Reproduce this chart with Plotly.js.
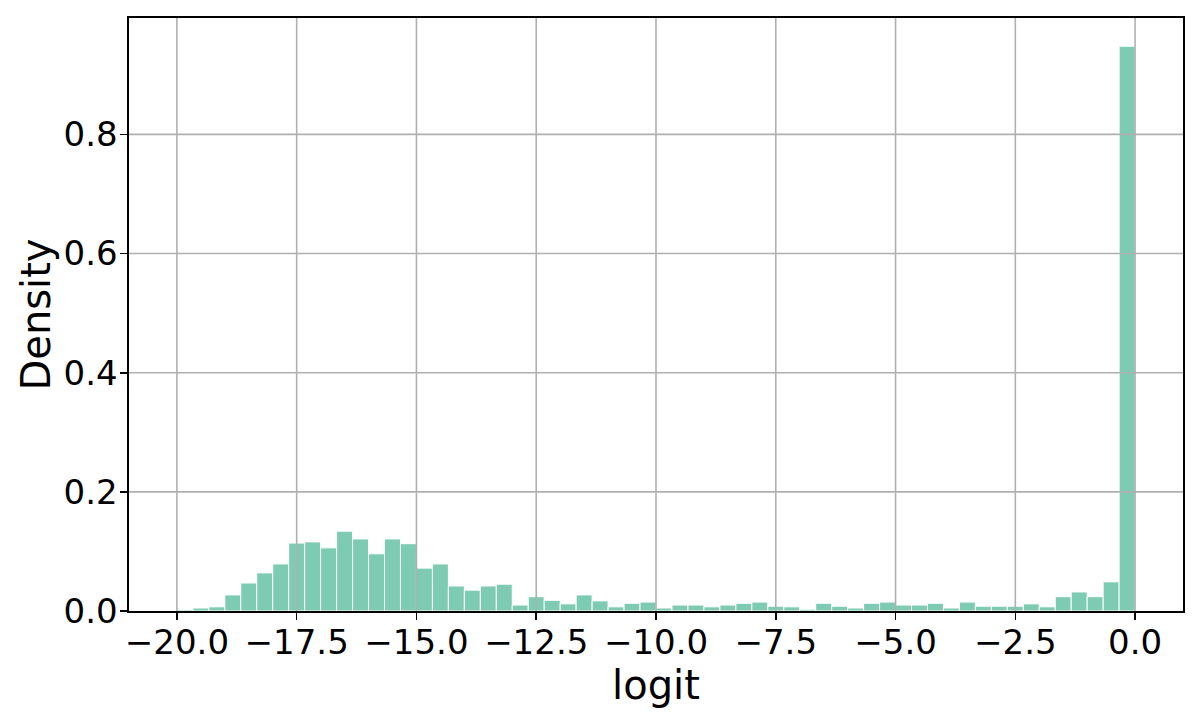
<!DOCTYPE html>
<html>
<head>
<meta charset="utf-8">
<script src="https://cdn.plot.ly/plotly-3.0.1.min.js"></script>
<style>html,body{margin:0;padding:0;background:#fff;}#chart{width:1200px;height:720px;}</style>
</head>
<body>
<div id="chart"></div>
<script>
// Histogram of logit values: 60 bins of width 1/3 spanning [-20, 0]
const binStart = -20;
const binEnd = 0;
const density = [
  0.002, 0.005, 0.007, 0.027, 0.047, 0.064, 0.079, 0.114, 0.116, 0.106,
  0.134, 0.121, 0.096, 0.121, 0.113, 0.072, 0.079, 0.042, 0.035, 0.042,
  0.045, 0.010, 0.024, 0.018, 0.012, 0.027, 0.017, 0.007, 0.013, 0.015,
  0.005, 0.010, 0.010, 0.007, 0.010, 0.013, 0.015, 0.008, 0.007, 0.003,
  0.013, 0.008, 0.005, 0.013, 0.015, 0.010, 0.010, 0.013, 0.005, 0.015,
  0.008, 0.008, 0.008, 0.012, 0.007, 0.024, 0.032, 0.024, 0.049, 0.948
];
const xTickVals = [-20, -17.5, -15, -12.5, -10, -7.5, -5, -2.5, 0];
const xTickText = ['\u221220.0', '\u221217.5', '\u221215.0', '\u221212.5', '\u221210.0', '\u22127.5', '\u22125.0', '\u22122.5', '0.0'];
const yTickVals = [0, 0.2, 0.4, 0.6, 0.8];
const yTickText = ['0.0', '0.2', '0.4', '0.6', '0.8'];

const nBins = density.length;
const binWidth = (binEnd - binStart) / nBins;
const centers = density.map((_, i) => binStart + (i + 0.5) * binWidth);

const xRange = [binStart - 0.05 * (binEnd - binStart), binEnd + 0.05 * (binEnd - binStart)];
const yMax = Math.max(...density) * 1.05;

const gridColor = '#b0b0b0';
const shapes = [];
xTickVals.forEach(v => shapes.push({type: 'line', xref: 'x', yref: 'paper', x0: v, x1: v, y0: 0, y1: 1, layer: 'above', line: {color: gridColor, width: 1.6}}));
yTickVals.forEach(v => { if (v > 0) shapes.push({type: 'line', xref: 'paper', yref: 'y', x0: 0, x1: 1, y0: v, y1: v, layer: 'above', line: {color: gridColor, width: 1.6}}); });

const trace = {
  type: 'bar',
  x: centers,
  y: density,
  width: binWidth,
  marker: {color: 'rgba(102,194,165,0.85)', line: {color: '#ffffff', width: 1}},
  hoverinfo: 'x+y'
};

const font = {family: 'DejaVu Sans', color: '#000'};
const layout = {
  width: 1200, height: 720,
  margin: {l: 129, r: 17, t: 18, b: 109, pad: 0},
  paper_bgcolor: '#fff', plot_bgcolor: '#fff',
  showlegend: false,
  bargap: 0,
  font: font,
  shapes: shapes,
  xaxis: {
    range: xRange, tickvals: xTickVals, ticktext: xTickText,
    showgrid: false, zeroline: false,
    showline: true, mirror: true, linecolor: '#000', linewidth: 1.6,
    ticks: 'outside', ticklen: 7, tickwidth: 1.6, tickcolor: '#000',
    tickfont: {family: 'DejaVu Sans', size: 34, color: '#000'},
    ticklabelstandoff: -6,
    title: {text: 'logit', font: {family: 'DejaVu Sans', size: 40, color: '#000'}, standoff: 6},
    layer: 'above traces'
  },
  yaxis: {
    range: [0, yMax], tickvals: yTickVals, ticktext: yTickText,
    showgrid: false, zeroline: false,
    showline: true, mirror: true, linecolor: '#000', linewidth: 1.6,
    ticks: 'outside', ticklen: 7, tickwidth: 1.6, tickcolor: '#000',
    tickfont: {family: 'DejaVu Sans', size: 34, color: '#000'},
    ticklabelstandoff: -4,
    title: {text: 'Density', font: {family: 'DejaVu Sans', size: 40, color: '#000'}, standoff: 0},
    layer: 'above traces'
  }
};

Plotly.newPlot('chart', [trace], layout, {displayModeBar: false, staticPlot: true});
</script>
</body>
</html>
